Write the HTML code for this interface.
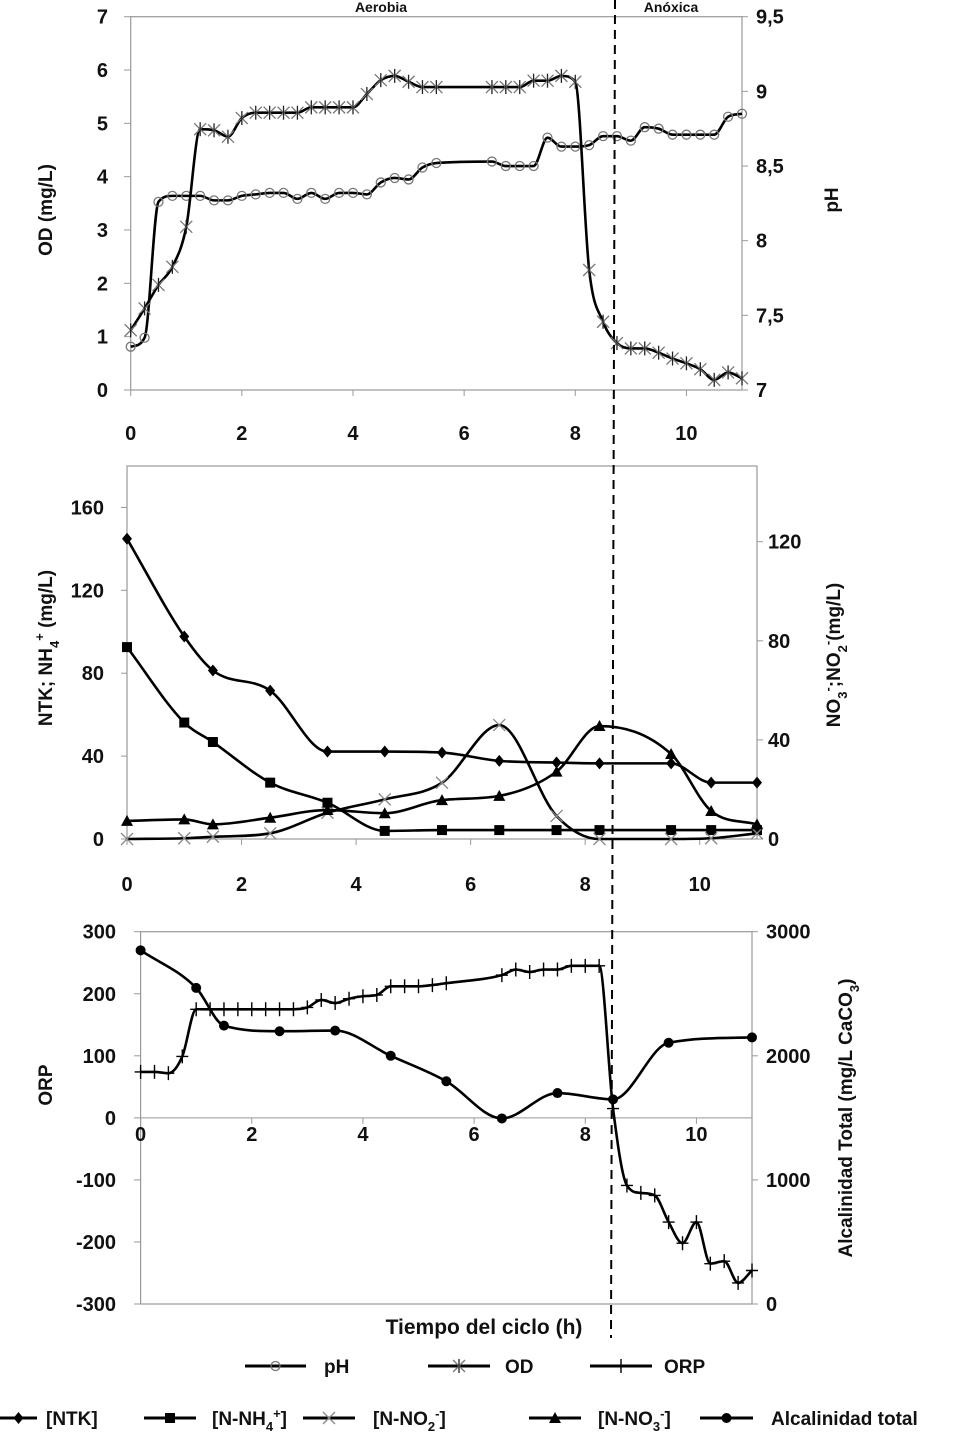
<!DOCTYPE html>
<html><head><meta charset="utf-8"><style>
body{margin:0;background:#fff;}
svg{display:block;font-family:"Liberation Sans",sans-serif;font-weight:bold;}
</style></head><body>
<svg id="c" width="957" height="1432" viewBox="0 0 957 1432" xmlns="http://www.w3.org/2000/svg"></svg>
<script>
// ---------- Data ----------
const tPH=[0,0.25,0.5,0.75,1,1.25,1.5,1.75,2,2.25,2.5,2.75,3,3.25,3.5,3.75,4,4.25,4.5,4.75,5,5.25,5.5,6.5,6.75,7,7.25,7.5,7.75,8,8.25,8.5,8.75,9,9.25,9.5,9.75,10,10.25,10.5,10.75,11];
const pH=[7.29,7.35,8.26,8.3,8.3,8.3,8.27,8.27,8.3,8.31,8.32,8.32,8.28,8.32,8.28,8.32,8.32,8.31,8.39,8.42,8.41,8.49,8.52,8.53,8.5,8.5,8.5,8.69,8.63,8.63,8.64,8.7,8.7,8.67,8.76,8.75,8.71,8.71,8.71,8.71,8.83,8.85];
const tOD=tPH;
const OD=[1.12,1.53,1.97,2.31,3.06,4.89,4.87,4.75,5.1,5.2,5.2,5.2,5.2,5.3,5.3,5.3,5.3,5.55,5.81,5.89,5.78,5.68,5.68,5.68,5.68,5.68,5.8,5.8,5.89,5.78,2.25,1.28,0.88,0.78,0.78,0.7,0.59,0.5,0.39,0.19,0.33,0.22];
const tN=[0,1,1.5,2.5,3.5,4.5,5.5,6.5,7.5,8.25,9.5,10.2,11];
const NTK=[144.9,97.7,81.3,71.6,42.2,42.2,41.7,37.7,36.9,36.5,36.5,27.2,27.2];
const NH4=[92.6,56.2,46.8,27.2,17.5,3.9,4.3,4.3,4.3,4.3,4.3,4.3,4.3];
const NO2=[0,0.3,0.9,2.3,10.6,16,22.7,46,9.3,0,0,0.3,2.3];
const NO3=[7.3,7.9,5.9,8.6,11.7,10.4,15.7,17.4,27.2,45.6,34.3,11.3,5.9];
const tAlk=[0,1,1.5,2.5,3.5,4.5,5.5,6.5,7.5,8.5,9.5,11];
const ALK=[2850,2547,2243,2198,2203,2000,1795,1495,1700,1649,2105,2148];
const tORP=[0,0.25,0.5,0.75,1,1.25,1.5,1.75,2,2.25,2.5,2.75,3,3.25,3.5,3.75,4,4.25,4.5,4.75,5,5.25,5.5,6.5,6.75,7,7.25,7.5,7.75,8,8.25,8.5,8.75,9,9.25,9.5,9.75,10,10.25,10.5,10.75,11];
const ORP=[74,74,72,99,175,175,175,175,175,175,175,175,178,190,185,192,196,198,212,212,212,214,217,230,239,235,239,239,245,245,245,15,-109,-121,-125,-168,-202,-168,-235,-231,-266,-246];
const xTicks=[0,2,4,6,8,10];
const odTicks=[0,1,2,3,4,5,6,7];
const phTicks=[7,7.5,8,8.5,9,9.5];
const nLTicks=[0,40,80,120,160];
const nRTicks=[0,40,80,120];
const orpTicks=[-300,-200,-100,0,100,200,300];
const alkTicks=[0,1000,2000,3000];

// ---------- Scales ----------
const lin=(d0,d1,r0,r1)=>v=>r0+(v-d0)*(r1-r0)/(d1-d0);
const x1=lin(0,11,130.7,742), yOD=lin(0,7,390,16.7), yPH=lin(7,9.5,390,16.7);
const x2=lin(0,11,127,757), yNL=lin(0,180,839,466), yNR=lin(0,120,839,541.7);
const x3=lin(0,11,140.6,752), yORP=lin(-300,300,1304,931.7), yALK=lin(0,3000,1304,931.7);

const svg=document.getElementById('c');
const NS='http://www.w3.org/2000/svg';
function el(tag,attrs,parent){const e=document.createElementNS(NS,tag);for(const k in attrs)e.setAttribute(k,attrs[k]);(parent||svg).appendChild(e);return e;}
function txt(s,x,y,size,anchor,parent,rot){const e=el('text',{x:x,y:y,'font-size':size,'text-anchor':anchor||'middle',fill:'#111'},parent);if(rot)e.setAttribute('transform','rotate(-90 '+x+' '+y+')');e.innerHTML=s;return e;}
// monotone cubic (Fritsch-Carlson) to avoid overshoot
function smooth(p){
  const n=p.length,dx=[],s=[],m=[];
  for(let i=0;i<n-1;i++){dx[i]=p[i+1][0]-p[i][0];s[i]=(p[i+1][1]-p[i][1])/dx[i];}
  m[0]=s[0];m[n-1]=s[n-2];
  for(let i=1;i<n-1;i++){m[i]=(s[i-1]*s[i]<=0)?0:(s[i-1]+s[i])/2;}
  for(let i=0;i<n-1;i++){if(s[i]===0){m[i]=0;m[i+1]=0;continue;}const a=m[i]/s[i],b=m[i+1]/s[i],h=a*a+b*b;if(h>9){const t=3/Math.sqrt(h);m[i]=t*a*s[i];m[i+1]=t*b*s[i];}}
  let d='M'+p[0][0]+','+p[0][1];
  for(let i=0;i<n-1;i++){const h=dx[i]/3;d+=' C'+(p[i][0]+h)+','+(p[i][1]+m[i]*h)+' '+(p[i+1][0]-h)+','+(p[i+1][1]-m[i+1]*h)+' '+p[i+1][0]+','+p[i+1][1];}
  return d;}
function marker(type,x,y,g){
  if(type==='circle')el('circle',{cx:x,cy:y,r:4.5,fill:'none',stroke:'#777','stroke-width':1.3},g);
  else if(type==='dot')el('circle',{cx:x,cy:y,r:5,fill:'#000'},g);
  else if(type==='star'){el('path',{d:`M${x-6},${y-6}L${x+6},${y+6}M${x-6},${y+6}L${x+6},${y-6}`,stroke:'#777','stroke-width':1.3},g);el('path',{d:`M${x},${y-7}V${y+7}`,stroke:'#222','stroke-width':1.3},g);}
  else if(type==='plus')el('path',{d:`M${x-6},${y}H${x+6}M${x},${y-7}V${y+7}`,stroke:'#000','stroke-width':1.4},g);
  else if(type==='diamond')el('path',{d:`M${x},${y-6}L${x+5},${y}L${x},${y+6}L${x-5},${y}Z`,fill:'#000'},g);
  else if(type==='square')el('rect',{x:x-5,y:y-5,width:10,height:10,fill:'#000'},g);
  else if(type==='x')el('path',{d:`M${x-6},${y-6}L${x+6},${y+6}M${x-6},${y+6}L${x+6},${y-6}`,stroke:'#888','stroke-width':1.3},g);
  else if(type==='tri')el('path',{d:`M${x},${y-6}L${x+6},${y+5}L${x-6},${y+5}Z`,fill:'#000'},g);
}
function series(name,ts,vs,xs,ys,type){
  const g=el('g',{});
  
  
  const pts=ts.map((t,i)=>[xs(t),ys(vs[i])]);
  el('path',{d:smooth(pts),fill:'none',stroke:'#000','stroke-width':2.6},g);
  pts.forEach(p=>marker(type,p[0],p[1],g));
}
function frame(name,xs,yTop,yBot,xEnd){
  const g=el('g',{});
  
  
  el('rect',{x:xs(0),y:yTop,width:xs(xEnd)-xs(0),height:yBot-yTop,fill:'none',stroke:'#999','stroke-width':1.2},g);
  return g;
}

// ---------- Panel 1 ----------
let g=frame('panel-od-ph',x1,16.7,390,11);
xTicks.forEach(t=>{el('line',{x1:x1(t),x2:x1(t),y1:390,y2:396,stroke:'#999'},g);txt(t,x1(t),440,20,'middle',g);});
odTicks.forEach(v=>{el('line',{x1:124,x2:x1(0),y1:yOD(v),y2:yOD(v),stroke:'#999'},g);txt(v,108,yOD(v)+7,20,'end',g);});
phTicks.forEach(v=>{el('line',{x1:742,x2:748,y1:yPH(v),y2:yPH(v),stroke:'#999'},g);txt(String(v).replace('.',','),756,yPH(v)+7,20,'start',g);});
txt('OD (mg/L)',52,210,19,'middle',g,true);
txt('pH',838,200,19,'middle',g,true);
txt('Aerobia',381,12,14,'middle',g);
txt('Anóxica',671,12,14,'middle',g);
series('ph-series',tPH,pH,x1,yPH,'circle');
series('od-series',tOD,OD,x1,yOD,'star');

// ---------- Panel 2 ----------
g=frame('panel-nitrogen',x2,466,839,11);
xTicks.forEach(t=>{el('line',{x1:x2(t),x2:x2(t),y1:839,y2:845,stroke:'#999'},g);txt(t,x2(t),891,20,'middle',g);});
nLTicks.forEach(v=>{el('line',{x1:121,x2:x2(0),y1:yNL(v),y2:yNL(v),stroke:'#999'},g);txt(v,104,yNL(v)+7,20,'end',g);});
nRTicks.forEach(v=>{el('line',{x1:757,x2:763,y1:yNR(v),y2:yNR(v),stroke:'#999'},g);txt(v,768,yNR(v)+7,20,'start',g);});
txt('NTK; NH<tspan dy="7" font-size="13">4</tspan><tspan dy="-15" font-size="13">+</tspan><tspan dy="8"> (mg/L)</tspan>',52,648,19,'middle',g,true);
txt('NO<tspan dy="7" font-size="13">3</tspan><tspan dy="-15" font-size="13">-</tspan><tspan dy="8">;NO</tspan><tspan dy="7" font-size="13">2</tspan><tspan dy="-15" font-size="13">-</tspan><tspan dy="8">(mg/L)</tspan>',840,655,19,'middle',g,true);
series('ntk-series',tN,NTK,x2,yNL,'diamond');
series('nh4-series',tN,NH4,x2,yNL,'square');
series('no2-series',tN,NO2,x2,yNR,'x');
series('no3-series',tN,NO3,x2,yNR,'tri');

// ---------- Panel 3 ----------
g=frame('panel-orp-alk',x3,931.7,1304,11);
el('line',{x1:x3(0),x2:x3(11),y1:yORP(0),y2:yORP(0),stroke:'#999'},g);
xTicks.forEach(t=>{el('line',{x1:x3(t),x2:x3(t),y1:yORP(0),y2:yORP(0)+6,stroke:'#999'},g);txt(t,x3(t),1141,20,'middle',g);});
orpTicks.forEach(v=>{el('line',{x1:134,x2:x3(0),y1:yORP(v),y2:yORP(v),stroke:'#999'},g);txt(v,116,yORP(v)+7,20,'end',g);});
alkTicks.forEach(v=>{el('line',{x1:752,x2:758,y1:yALK(v),y2:yALK(v),stroke:'#999'},g);txt(v,766,yALK(v)+7,20,'start',g);});
txt('ORP',52,1085,19,'middle',g,true);
txt('Alcalinidad Total (mg/L CaCO<tspan dy="7" font-size="13">3</tspan><tspan dy="-7">)</tspan>',852,1118,19,'middle',g,true);
txt('Tiempo del ciclo (h)',484,1334,21,'middle',g);
series('alkalinity-series',tAlk,ALK,x3,yALK,'dot');
series('orp-series',tORP,ORP,x3,yORP,'plus');

// dashed separator
const dl=el('line',{x1:615,x2:611,y1:0,y2:1338,stroke:'#000','stroke-width':2,'stroke-dasharray':'9,6'});



// ---------- Legend ----------
function legend(name,x0,x1_,y,type,label,tx){
  const lg=el('g',{});
  
  
  el('line',{x1:x0,x2:x1_,y1:y,y2:y,stroke:'#000','stroke-width':3},lg);
  marker(type,(x0+x1_)/2,y,lg);
  txt(label,tx,y+7,19,'start',lg);
}
legend('legend-ph',245,306,1366,'circle','pH',324);
legend('legend-od',428,490,1366,'star','OD',505);
legend('legend-orp',590,652,1366,'plus','ORP',664);
legend('legend-ntk',0,37,1418,'diamond','[NTK]',46);
legend('legend-nh4',144,196,1418,'square','[N-NH<tspan dy="6" font-size="13">4</tspan><tspan dy="-13" font-size="13">+</tspan><tspan dy="7">]</tspan>',212);
legend('legend-no2',303,355,1418,'x','[N-NO<tspan dy="6" font-size="13">2</tspan><tspan dy="-13" font-size="13">-</tspan><tspan dy="7">]</tspan>',373);
legend('legend-no3',529,581,1418,'tri','[N-NO<tspan dy="6" font-size="13">3</tspan><tspan dy="-13" font-size="13">-</tspan><tspan dy="7">]</tspan>',598);
legend('legend-alkalinity',700,753,1418,'dot','Alcalinidad total',771);
</script>
</body></html>
